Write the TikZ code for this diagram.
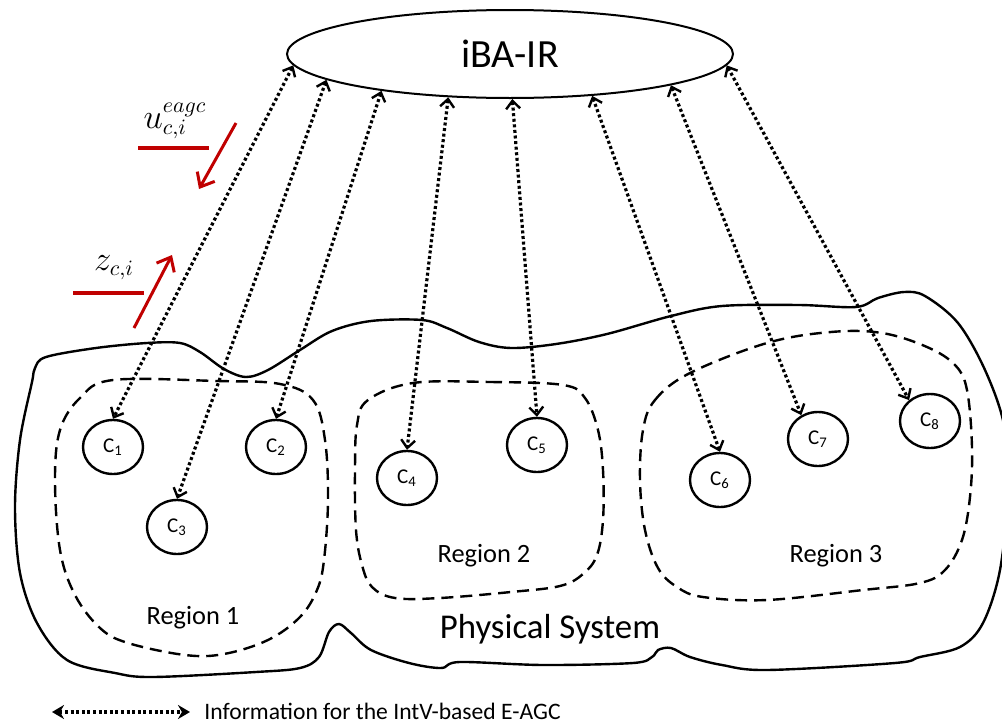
\documentclass[tikz,border=0pt]{standalone}
\usepackage{fontspec}
\setmainfont{Carlito}
\usetikzlibrary{shapes.geometric,arrows.meta}
\definecolor{agcred}{RGB}{192,0,0}

\begin{document}
\begin{tikzpicture}[x=0.5pt,y=-0.5pt,
  cnode/.style={ellipse,draw,line width=1.2pt,minimum width=30pt,minimum height=27pt,inner sep=0pt,font=\fontsize{10.5}{12}\selectfont},
  info/.style={line width=1.6pt,dash pattern=on 1.5pt off 1.3pt,>={Straight Barb[length=4pt,width=7pt,line width=1.2pt]},<->},
  region/.style={line width=1.2pt,dash pattern=on 6pt off 3.5pt},
  redarrow/.style={agcred,line width=1.5pt,>={Straight Barb[length=6pt,width=10pt]},->},
  redbar/.style={agcred,line width=2.2pt},
  lbl/.style={font=\fontsize{13.2}{15}\selectfont}]
\useasboundingbox (0,0) rectangle (1002,723);

% physical system outline
\draw[line width=1.2pt] plot[smooth cycle,tension=0.55] coordinates {
 (35,368) (46,357) (96,348) (147,343) (180,343) (200,352) (224,369) (246,377)
 (268,370) (300,350) (332,331) (371,321) (422,320) (447,328) (479,342) (511,348)
 (556,344) (607,334) (671,316) (722,306) (799,305) (856,307) (878,298) (904,292)
 (925,296) (958,323) (985,370) (1004,425) (1008,490) (1000,570) (983,623) (960,647)
 (920,657) (895,663) (767,670) (722,665) (690,657) (671,648) (658,650) (652,657)
 (633,663) (543,665) (460,662) (441,668) (409,663) (371,650) (351,633) (339,624)
 (329,632) (319,657) (300,668) (256,672) (153,677) (115,673) (67,660) (37,623)
 (20,573) (15,507) (20,440) (32,382)};

% regions
\draw[region] plot[smooth cycle,tension=0.6] coordinates {
 (113,380) (217,381) (280,384) (313,400) (325,440) (328,500) (324,560) (317,590)
 (300,617) (268,640) (224,654) (185,655) (128,643) (100,628) (75,595) (60,550)
 (55,480) (60,430) (80,398)};
\draw[region] plot[smooth cycle,tension=0.6] coordinates {
 (413,383) (490,382) (563,385) (585,398) (598,430) (603,470) (603,520) (597,555)
 (583,574) (560,586) (511,592) (440,598) (395,598) (372,587) (362,565) (356,530)
 (355,470) (357,425) (368,400)};
\draw[region] plot[smooth cycle,tension=0.6] coordinates {
 (643,430) (655,400) (690,373) (767,343) (831,332) (882,333) (927,347) (955,365)
 (967,390) (972,447) (970,497) (962,540) (945,570) (920,583) (863,590) (767,600)
 (703,597) (677,587) (658,568) (645,530) (640,480)};

\node[lbl] (reg1) at (193,618) {Region 1};
\node[lbl] (reg2) at (484,556) {Region 2};
\node[lbl] (reg3) at (836,556) {Region 3};
\node[font=\fontsize{17.4}{20}\selectfont] (phys) at (550,629) {Physical System};

% iBA-IR
\node[ellipse,draw,line width=1pt,minimum width=223pt,minimum height=44pt,font=\fontsize{20}{24}\selectfont] (ibair) at (510,54) {iBA-IR};

% controllers
\node[cnode] (c1) at (113,447) {C\textsubscript{1}};
\node[cnode] (c2) at (276,447) {C\textsubscript{2}};
\node[cnode] (c3) at (177,527) {C\textsubscript{3}};
\node[cnode] (c4) at (407,478) {C\textsubscript{4}};
\node[cnode] (c5) at (537,445) {C\textsubscript{5}};
\node[cnode] (c6) at (720,480) {C\textsubscript{6}};
\node[cnode] (c7) at (818,439) {C\textsubscript{7}};
\node[cnode] (c8) at (930,421) {C\textsubscript{8}};

% information links
\draw[info] (ibair.183) -- (c1.north);
\draw[info] (ibair.188) -- (c3.north);
\draw[info] (ibair.196) -- (c2.north);
\draw[info] (ibair.215) -- (c4.north);
\draw[info] (ibair.273) -- (c5.north);
\draw[info] (ibair.333) -- (c6.north);
\draw[info] (ibair.349) -- (c7.125);
\draw[info] (ibair.357) -- (c8.135);

% signals
\node[font=\fontsize{16}{19}\selectfont] (ulab) at (175,121) {$u^{eagc}_{c,i}$};
\node[font=\fontsize{16}{19}\selectfont] (zlab) at (114,268) {$z_{c,i}$};
\draw[redbar] (138,148) -- (209,148);
\draw[redbar] (73,293) -- (144,293);
\coordinate (uS) at (236,123);
\coordinate (uE) at (199,189);
\coordinate (zS) at (134,328);
\coordinate (zE) at (172,255);
\draw[redarrow] (uS) -- (uE);
\draw[redarrow] (zS) -- (zE);

% legend
\coordinate (legL) at (52,712);
\coordinate (legR) at (190,712);
\draw[info,>={Stealth[length=6pt,width=7pt]}] (legL) -- (legR);
\node[anchor=west,font=\fontsize{11.8}{14}\selectfont,inner sep=0pt] (legtxt) at (204,711) {Information for the IntV-based E-AGC};
\end{tikzpicture}
\end{document}
